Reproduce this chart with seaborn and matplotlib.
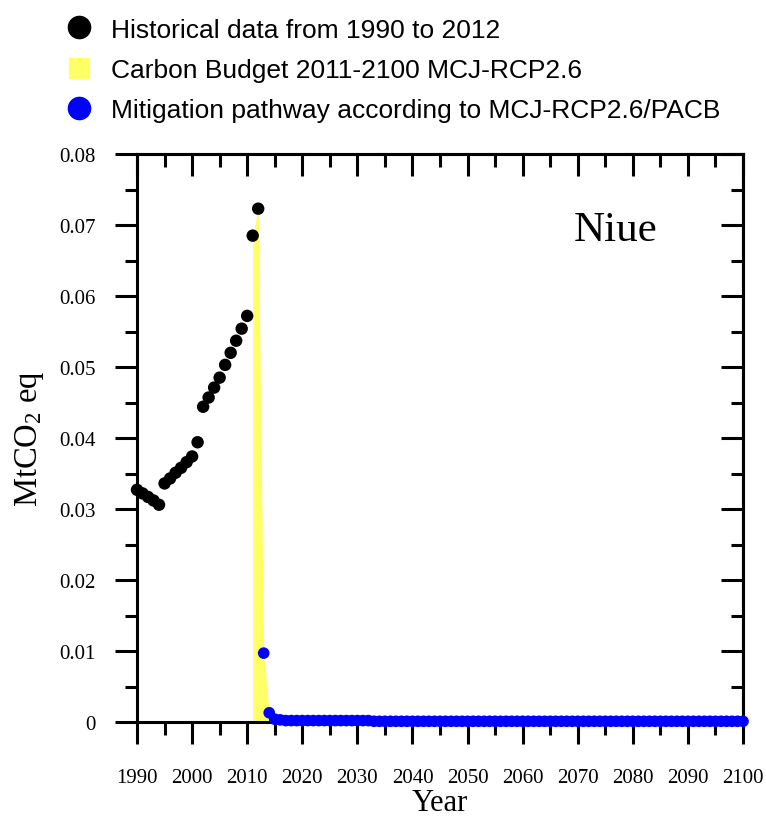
import numpy as np
import pandas as pd
import matplotlib
matplotlib.use("Agg")
import matplotlib.pyplot as plt
from matplotlib.lines import Line2D
from matplotlib.ticker import MultipleLocator, FuncFormatter
import seaborn as sns

## Data
hist_years = list(range(1990, 2013))
hist_values = [0.0327, 0.0322, 0.0317, 0.0312, 0.0306, 0.0336, 0.0343, 0.0351, 0.0358,
               0.0366, 0.0374, 0.0394, 0.0444, 0.0457, 0.0471, 0.0485, 0.0503, 0.0520,
               0.0537, 0.0554, 0.0572, 0.0685, 0.0723]

path_years = list(range(2013, 2101))
path_values = [0.0097, 0.0013, 0.0004, 0.0003, 0.0002, 0.0002, 0.0002, 0.0002, 0.0002, 0.0002,
               0.0002, 0.0002, 0.0002, 0.0002, 0.0002, 0.0002, 0.0002, 0.0002, 0.0002, 0.0002,
               0.0001, 0.0001, 0.0001, 0.0001, 0.0001, 0.0001, 0.0001, 0.0001, 0.0001, 0.0001,
               0.0001, 0.0001, 0.0001, 0.0001, 0.0001, 0.0001, 0.0001, 0.0001, 0.0001, 0.0001,
               0.0001, 0.0001, 0.0001, 0.0001, 0.0001, 0.0001, 0.0001, 0.0001, 0.0001, 0.0001,
               0.0001, 0.0001, 0.0001, 0.0001, 0.0001, 0.0001, 0.0001, 0.0001, 0.0001, 0.0001,
               0.0001, 0.0001, 0.0001, 0.0001, 0.0001, 0.0001, 0.0001, 0.0001, 0.0001, 0.0001,
               0.0001, 0.0001, 0.0001, 0.0001, 0.0001, 0.0001, 0.0001, 0.0001, 0.0001, 0.0001,
               0.0001, 0.0001, 0.0001, 0.0001, 0.0001, 0.0001, 0.0001, 0.0001]

# budget area: 2011-2012 from historical data, then the pathway
budget_years = [2011, 2012] + path_years
budget_values = [0.0685, 0.0723] + path_values

x_ticks = list(range(1990, 2101, 10))
legend_labels = ["Historical data from 1990 to 2012",
                 "Carbon Budget 2011-2100 MCJ-RCP2.6",
                 "Mitigation pathway according to MCJ-RCP2.6/PACB"]
country = "Niue"

hist = pd.DataFrame({"year": hist_years, "value": hist_values})
path = pd.DataFrame({"year": path_years, "value": path_values})

sns.set_theme(style="ticks")
plt.rcParams['font.family'] = ['Liberation Serif', 'DejaVu Serif']
plt.rcParams['mathtext.fontset'] = 'custom'
plt.rcParams['mathtext.rm'] = 'Liberation Serif'
plt.rcParams['mathtext.it'] = 'Liberation Serif:italic'
plt.rcParams['text.color'] = 'black'
plt.rcParams['axes.labelcolor'] = 'black'

fig = plt.figure(figsize=(7.66, 8.2), dpi=100)
ax = fig.add_axes([137/766, 1-723/820, 606/766, 568/820])

ax.fill_between(budget_years, 0, budget_values, color='#ffff66', linewidth=0, zorder=1)
sns.scatterplot(data=path, x="year", y="value", color='#0000ff', s=70, edgecolor='none',
                ax=ax, zorder=3, clip_on=False)
sns.scatterplot(data=hist, x="year", y="value", color='black', s=80, edgecolor='none',
                ax=ax, zorder=4, clip_on=False)

ax.set_xlim(1990, 2100)
ax.set_ylim(0, 0.08)
ax.set_xticks(x_ticks)
ax.xaxis.set_minor_locator(MultipleLocator(5))
ax.yaxis.set_major_locator(MultipleLocator(0.01))
ax.yaxis.set_minor_locator(MultipleLocator(0.005))
ax.yaxis.set_major_formatter(FuncFormatter(lambda v, p: '0' if abs(v) < 1e-9 else '%.2f' % v))

for s in ax.spines.values():
    s.set_linewidth(2.2)
    s.set_color('black')
    s.set_visible(True)

# bottom and left ticks point outwards
ax.tick_params(axis='both', which='both', width=2.2, color='black', labelcolor='black',
               labelsize=15, direction='out', top=False, right=False)
ax.tick_params(axis='both', which='major', length=16)
ax.tick_params(axis='both', which='minor', length=9)
ax.tick_params(axis='x', which='both', pad=17)
ax.tick_params(axis='y', which='both', pad=14)

# top and right ticks point into the plot
top = ax.secondary_xaxis('top')
top.set_xticks(x_ticks)
top.xaxis.set_minor_locator(MultipleLocator(5))
right = ax.secondary_yaxis('right')
right.yaxis.set_major_locator(MultipleLocator(0.01))
right.yaxis.set_minor_locator(MultipleLocator(0.005))
for sec in (top, right):
    sec.tick_params(which='both', direction='in', width=2.2, color='black',
                    labeltop=False, labelright=False, labelbottom=False, labelleft=False)
    sec.tick_params(which='major', length=16)
    sec.tick_params(which='minor', length=9)
    for s in sec.spines.values():
        s.set_linewidth(2.2)
        s.set_color('black')

ax.set_xlabel("Year", fontsize=22, labelpad=1)
ax.set_ylabel("MtCO$_2$ eq", fontsize=23.5, labelpad=9)
ax.text(0.79, 0.866, country, transform=ax.transAxes, fontsize=31,
        ha='center', va='center')

handles = [
    Line2D([], [], marker='o', linestyle='none', color='black', markersize=16),
    Line2D([], [], marker='s', linestyle='none', color='#ffff66', markersize=15),
    Line2D([], [], marker='o', linestyle='none', color='#0000ff', markersize=16),
]
fig.legend(handles, legend_labels, loc='upper left', bbox_to_anchor=(42/766, 1-8/820),
           frameon=False, prop={'family': 'Liberation Sans', 'size': 19},
           handletextpad=0.2, labelspacing=0.62, borderaxespad=0)

fig.savefig("out.png", dpi=100)
